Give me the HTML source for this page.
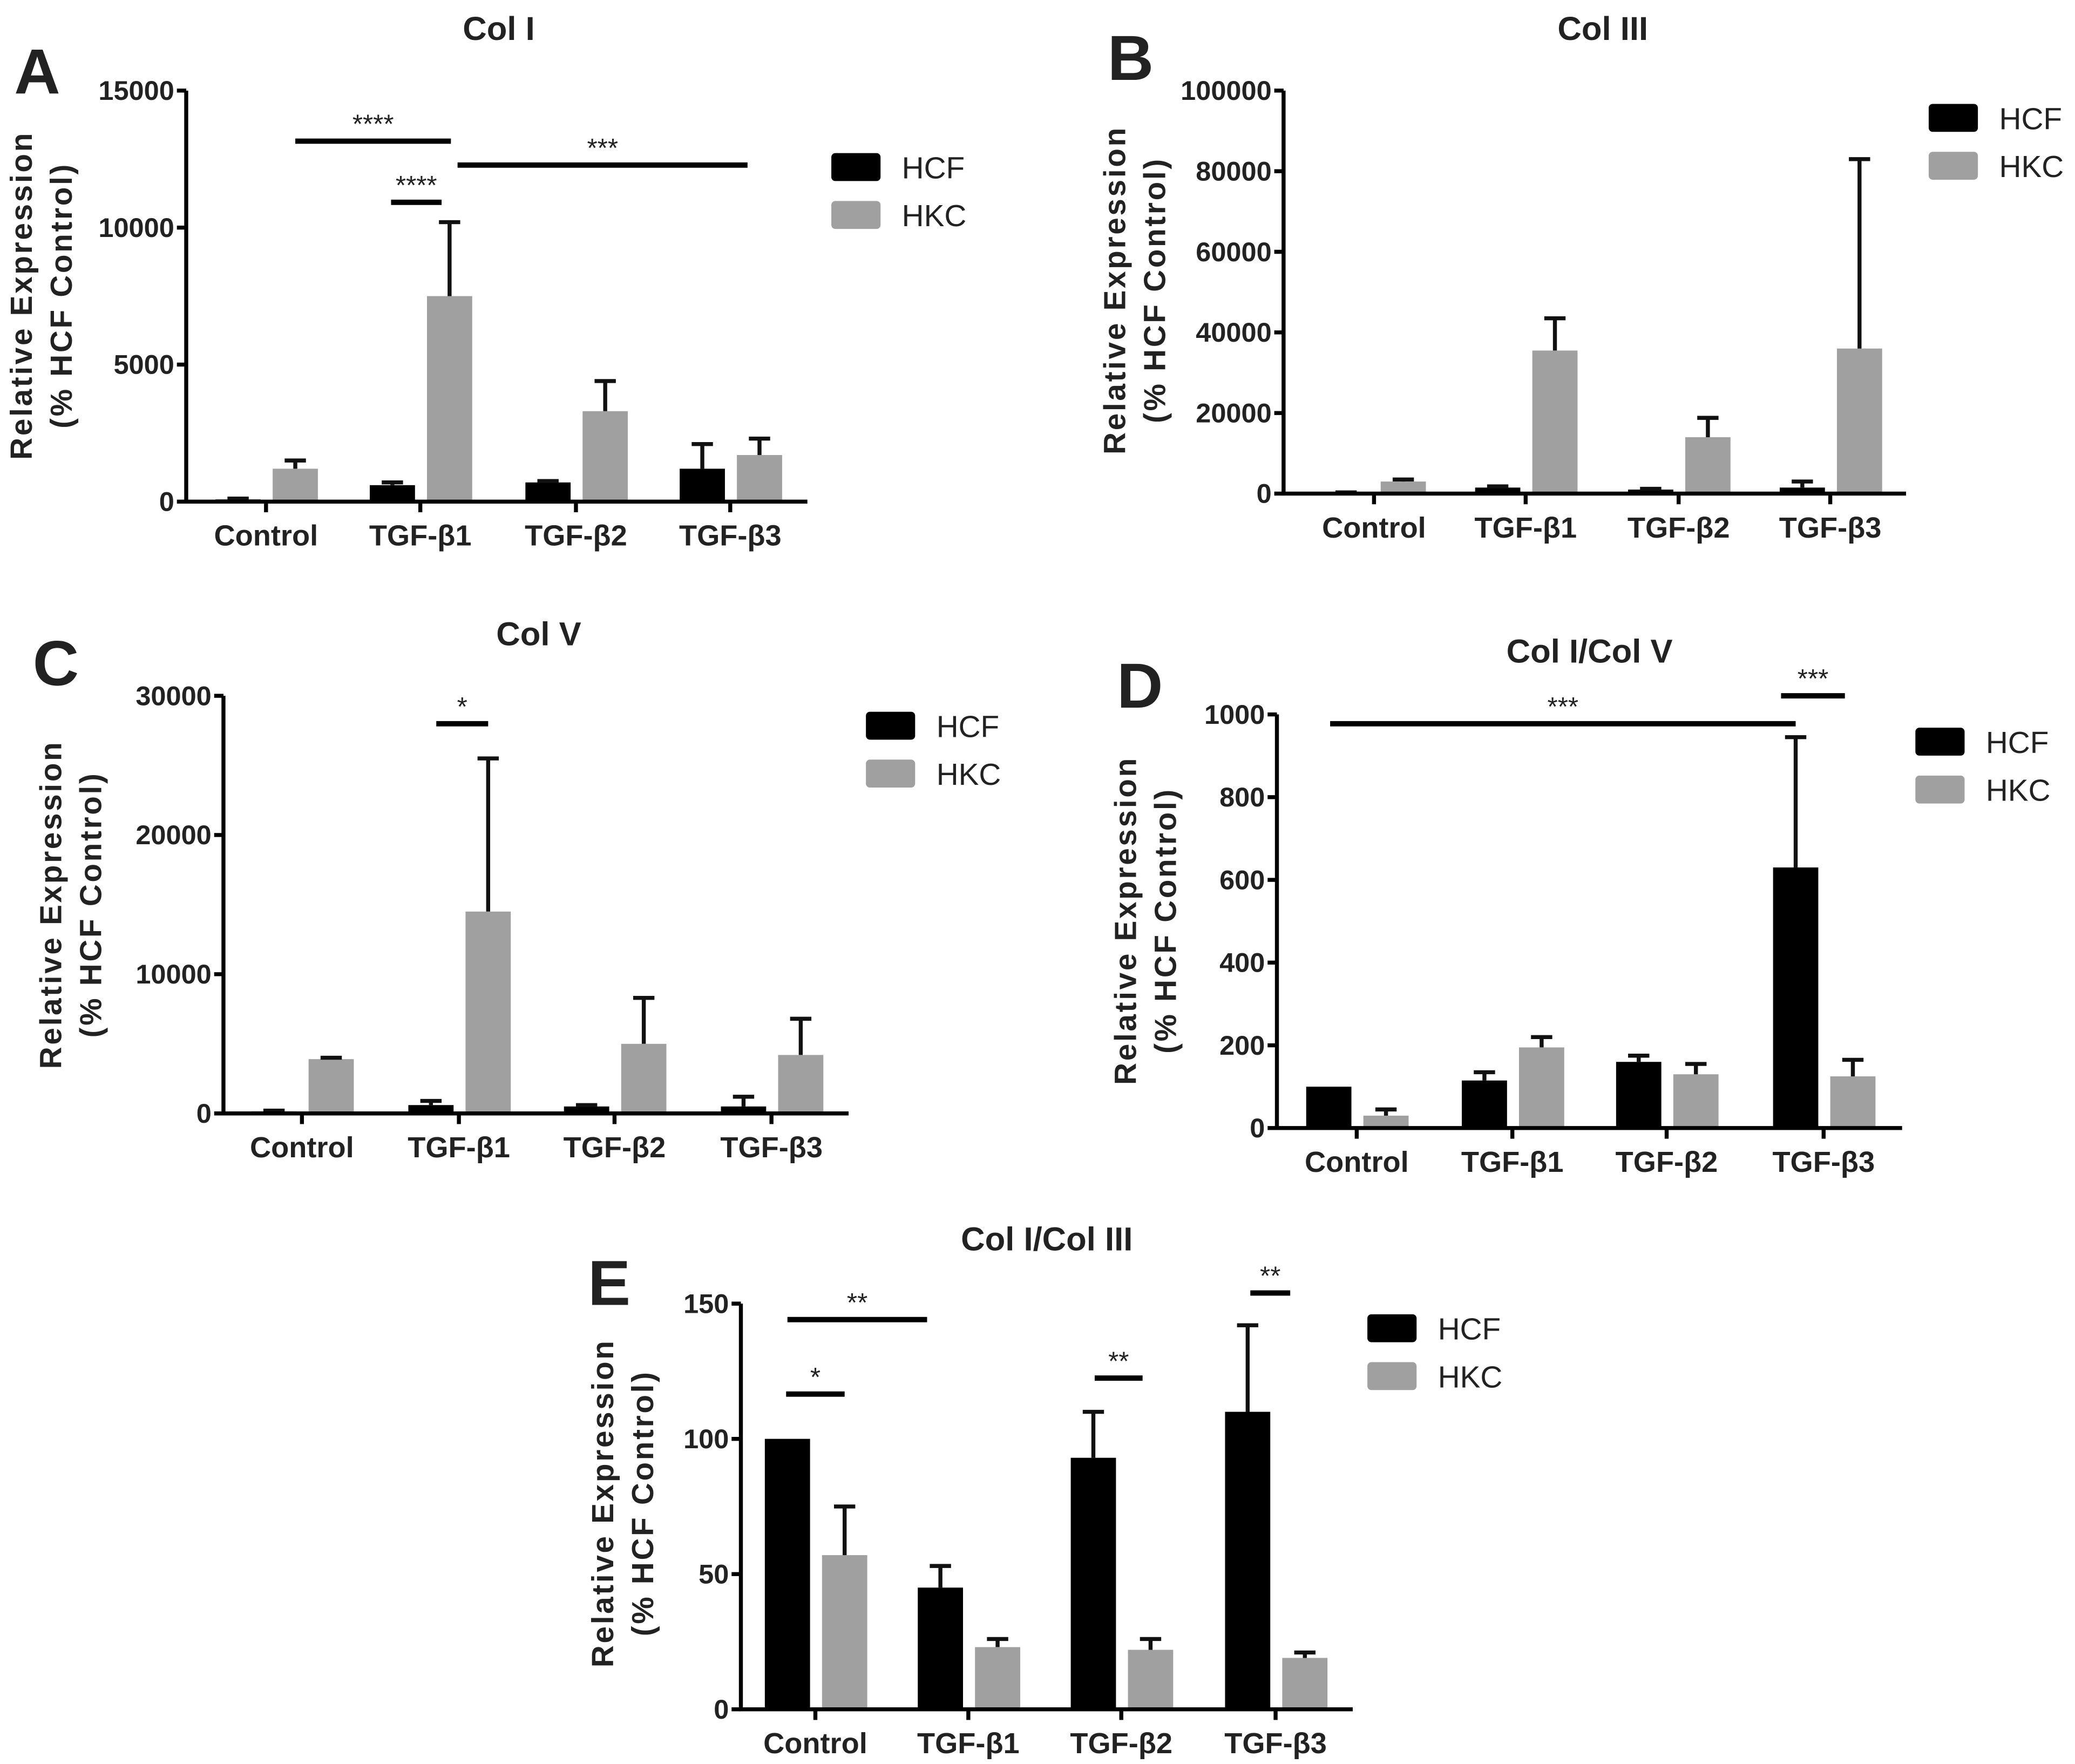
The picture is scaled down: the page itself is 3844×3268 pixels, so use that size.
<!DOCTYPE html>
<html><head><meta charset="utf-8"><style>
html,body{margin:0;padding:0;background:#fff}
svg{display:block}
text{font-family:"Liberation Sans",Arial,sans-serif;font-weight:bold;fill:#222}
</style></head><body>
<svg id="fig" width="3844" height="3268" viewBox="0 0 1560 1326" xmlns="http://www.w3.org/2000/svg"></svg>
<script>
const categories = ["Control","TGF-β1","TGF-β2","TGF-β3"];
const seriesNames = ["HCF","HKC"];
// Panel A: Col I
const aHCF = [80,600,700,1200];
const aHCFErr = [30,100,50,900];
const aHKC = [1200,7500,3300,1700];
const aHKCErr = [300,2700,1100,600];
const aTicks = [0,5000,10000,15000];
// Panel B: Col III
const bHCF = [200,1500,1000,1500];
const bHCFErr = [100,300,200,1500];
const bHKC = [3000,35500,14000,36000];
const bHKCErr = [500,8000,4800,47000];
const bTicks = [0,20000,40000,60000,80000,100000];
// Panel C: Col V
const cHCF = [150,600,500,500];
const cHCFErr = [50,300,100,700];
const cHKC = [3900,14500,5000,4200];
const cHKCErr = [100,11000,3300,2600];
const cTicks = [0,10000,20000,30000];
// Panel D: Col I/Col V
const dHCF = [100,115,160,630];
const dHCFErr = [0,20,15,315];
const dHKC = [30,195,130,125];
const dHKCErr = [15,25,25,40];
const dTicks = [0,200,400,600,800,1000];
// Panel E: Col I/Col III
const eHCF = [100,45,93,110];
const eHCFErr = [0,8,17,32];
const eHKC = [57,23,22,19];
const eHKCErr = [18,3,4,2];
const eTicks = [0,50,100,150];

const NS="http://www.w3.org/2000/svg";
const svg=document.getElementById('fig');
function mk(tag,attrs,parent){const e=document.createElementNS(NS,tag);for(const k in attrs)e.setAttribute(k,attrs[k]);(parent||svg).appendChild(e);return e;}
function txt(s,x,y,size,anchor,parent,rot){const t=mk('text',{x:x,y:y,'font-size':size,'text-anchor':anchor||'middle'},parent);if(rot)t.setAttribute('transform','rotate(-90 '+x+' '+y+')');t.textContent=s;return t;}

const panels=[
 {id:'a',letter:'A',lx:28,ly:70,title:'Col I',tx:375,ty:30,ax:140,top:68,bot:377,right:607,cats:[200,316,433,549],hcf:aHCF,hcfE:aHCFErr,hkc:aHKC,hkcE:aHKCErr,ticks:aTicks,ylx:24,yly:222,lgx:625,lgy:115,
  sig:[[222,339,106,'****'],[294,332,152,'****'],[344,562,124,'***']]},
 {id:'b',letter:'B',lx:850,ly:60,title:'Col III',tx:1205,ty:30,ax:965,top:68,bot:371,right:1433,cats:[1033,1147,1262,1376],hcf:bHCF,hcfE:bHCFErr,hkc:bHKC,hkcE:bHKCErr,ticks:bTicks,ylx:846,yly:218,lgx:1450,lgy:78,sig:[]},
 {id:'c',letter:'C',lx:42,ly:515,title:'Col V',tx:405,ty:485,ax:168,top:523,bot:837,right:638,cats:[227,345,462,580],hcf:cHCF,hcfE:cHCFErr,hkc:cHKC,hkcE:cHKCErr,ticks:cTicks,ylx:46,yly:680,lgx:651,lgy:535,
  sig:[[328,367,544,'*']]},
 {id:'d',letter:'D',lx:857,ly:532,title:'Col  I/Col V',tx:1195,ty:498,ax:960,top:537,bot:848,right:1430,cats:[1020,1137,1253,1371],hcf:dHCF,hcfE:dHCFErr,hkc:dHKC,hkcE:dHKCErr,ticks:dTicks,ylx:854,yly:692,lgx:1440,lgy:547,
  sig:[[1000,1350,544,'***'],[1339,1387,523,'***']]},
 {id:'e',letter:'E',lx:458,ly:981,title:'Col I/Col III',tx:787,ty:940,ax:557,top:980,bot:1285,right:1017,cats:[613,728,843,959],hcf:eHCF,hcfE:eHCFErr,hkc:eHKC,hkcE:eHKCErr,ticks:eTicks,ylx:461,yly:1130,lgx:1028,lgy:988,
  sig:[[592,697,992,'**'],[591,635,1048,'*'],[823,859,1036,'**'],[940,970,972,'**']]}
];

panels.forEach(p=>{
  const g=mk('g',{});
  
  
  const max=p.ticks[p.ticks.length-1];
  const y=v=>p.bot-(v/max)*(p.bot-p.top);
  const lt=txt(p.letter,p.lx,p.ly,48,'middle',g);
  
  
  const tt=txt(p.title,p.tx,p.ty,25,'middle',g);
  
  
  const bw=34;
  p.cats.forEach((cx,i)=>{
    [[p.hcf,p.hcfE,-21,'#000','hcf'],[p.hkc,p.hkcE,22,'#a0a0a0','hkc']].forEach(s=>{
      const v=s[0][i],e=s[1][i],c=cx+s[2];
      const yt=y(v), ye=y(v+e);
      const r=mk('rect',{x:c-bw/2,y:yt,width:bw,height:p.bot-yt,fill:s[3]},g);
      
      
      if(e>0){
        const eb=mk('path',{d:`M${c} ${yt}V${ye}M${c-8} ${ye}H${c+8}`,stroke:'#111','stroke-width':3,fill:'none'},g);
        
        
      }
    });
  });
  const axis=mk('path',{d:`M${p.ax} ${p.top}V${p.bot}H${p.right}`,stroke:'#000','stroke-width':3,fill:'none'},g);
  
  
  p.ticks.forEach(t=>{
    const yy=y(t);
    mk('line',{x1:p.ax-7,x2:p.ax,y1:yy,y2:yy,stroke:'#000','stroke-width':3},g);
    const tl=txt(String(t),p.ax-9,yy+7,20.5,'end',g);
    
    
  });
  p.cats.forEach((cx,i)=>{
    mk('line',{x1:cx,x2:cx,y1:p.bot,y2:p.bot+8,stroke:'#000','stroke-width':3},g);
    const cl=txt(categories[i],cx,p.bot+33,22,'middle',g);
    
    
  });
  const y1=txt('Relative  Expression',p.ylx,p.yly,23,'middle',g,true);
  y1.style.letterSpacing='1.5px';
  
  
  const y2=txt('(% HCF  Control)',p.ylx+30,p.yly,23,'middle',g,true);
  y2.style.letterSpacing='1.5px';
  
  
  [['#000',0],['#a0a0a0',1]].forEach(l=>{
    const yy=p.lgy+l[1]*36;
    const b=mk('rect',{x:p.lgx,y:yy,width:37,height:21,rx:3,fill:l[0]},g);
    
    
    const lt2=txt(seriesNames[l[1]],p.lgx+53,yy+19,23,'start',g);
    lt2.style.fontWeight='normal';
    
    
  });
  p.sig.forEach(s=>{
    const ln=mk('line',{x1:s[0],x2:s[1],y1:s[2],y2:s[2],stroke:'#000','stroke-width':4},g);
    
    
    const st=txt(s[3],(s[0]+s[1])/2,s[2]-6,20,'middle',g);
    st.style.fontWeight='normal';
    
    
  });
});
</script>
</body></html>
